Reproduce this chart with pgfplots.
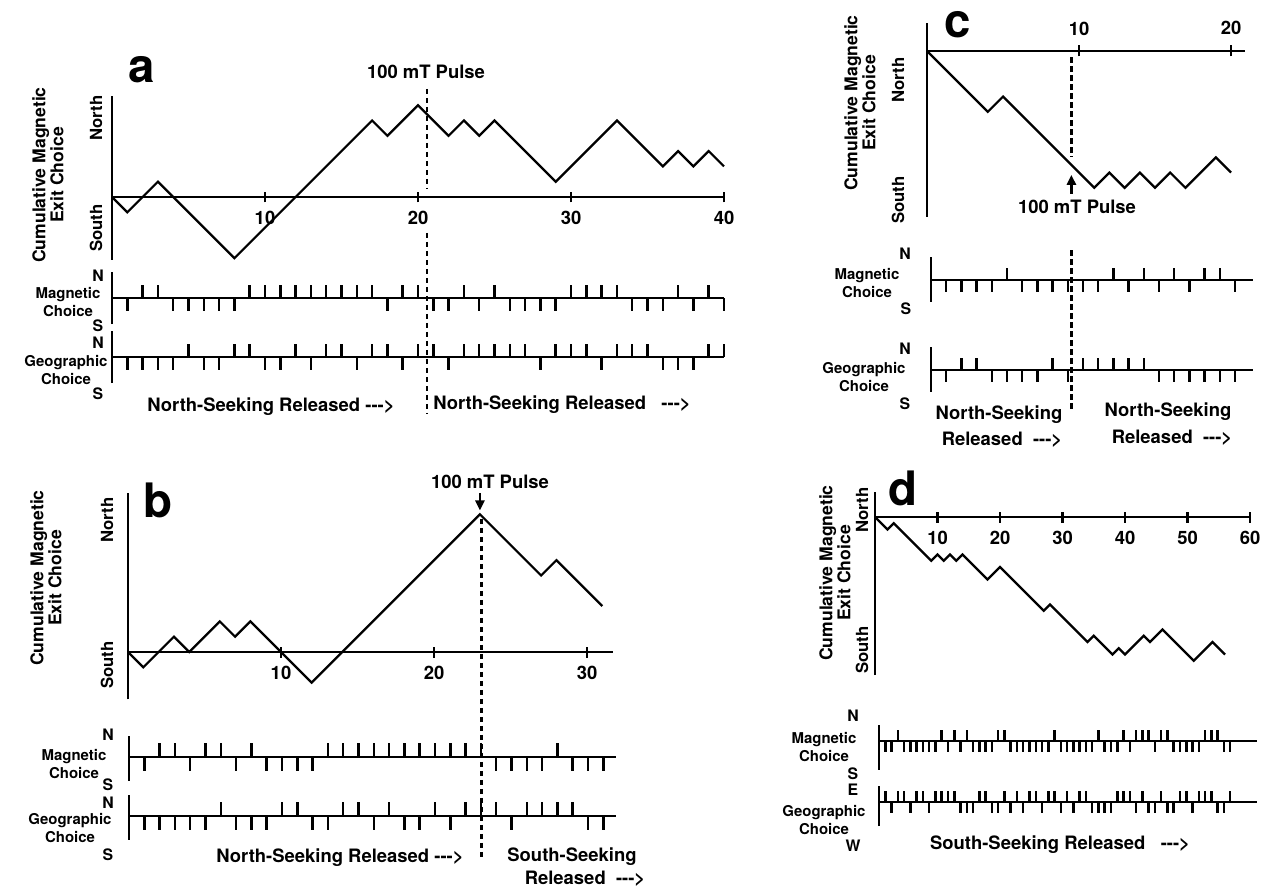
\documentclass[border=0pt]{standalone}
\usepackage{fontspec}
\setmainfont{TeX Gyre Heros}
\usepackage{pgfplots}
\pgfplotsset{compat=1.18}
\usetikzlibrary{arrows.meta}

\pgfplotsset{
  mainax/.style={anchor=origin, axis lines=middle,
    axis line style={-, line width=0.5mm},
    enlargelimits=false, clip=false, xmin=0, ytick=\empty,
    tick align=center, major tick length=2.2mm,
    every tick/.style={line width=0.45mm, black},
    xticklabel style={font=\fontsize{10.5}{12}\selectfont\bfseries, inner sep=2pt, yshift=-1mm},
    /pgf/number format/assume math mode=true},
  rowax/.style={anchor=origin, hide axis, clip=false, enlargelimits=false, xmin=0},
  curve/.style={black, line width=0.45mm, mark=none},
  base/.style={black, line width=0.4mm, mark=none},
  bar/.style={black, line width=0.5mm, mark=none},
  marks/.style={ycomb, black, line width=0.5mm, mark=none},
  pulse/.style={black, line width=0.45mm, dash pattern=on 1.1mm off 0.7mm},
}
\tikzset{
  big/.style={font=\fontsize{10.5}{12}\selectfont\bfseries},
  lab/.style={font=\fontsize{8.5}{10.5}\selectfont\bfseries, align=center},
  ylab/.style={font=\fontsize{10}{10.3}\selectfont\bfseries, align=center, rotate=90},
  ns/.style={font=\fontsize{9}{10}\selectfont\bfseries},
  nsr/.style={font=\fontsize{9.5}{10}\selectfont\bfseries, rotate=90},
  letter/.style={font=\fontsize{27}{27}\selectfont\bfseries},
}

\begin{document}
\begin{tikzpicture}[x=0.2mm, y=-0.2mm]
\useasboundingbox (0,0) rectangle (1274,889);

% ---------------- panel a ----------------
\begin{axis}[mainax, at={(22.4mm,-39.4mm)}, x=3.06mm, y=3.06mm,
  xmax=40, ymin=-4.1, ymax=6.6, xtick={10,20,30,40}]
\addplot[curve] coordinates {(0,0) (1,-1) (3,1) (8,-4) (17,5) (18,4) (20,6)
  (22,4) (23,5) (24,4) (25,5) (29,1) (33,5) (36,2) (37,3) (38,2) (39,3) (40,2)};
\addplot[pulse] coordinates {(20.6,7.06) (20.6,0.5)};
\addplot[pulse] coordinates {(20.6,-2.35) (20.6,-14.2)};
\end{axis}
\begin{axis}[rowax, at={(22.4mm,-59.6mm)}, x=3.06mm, y=2.6mm, xmax=40, ymin=-2, ymax=2]
\addplot[base] coordinates {(0,0) (40,0)};
\addplot[bar] coordinates {(0,-2) (0,2)};
\addplot[marks] coordinates {(1,-1) (2,1) (3,1) (4,-1) (5,-1) (6,-1) (7,-1) (8,-1)
  (9,1) (10,1) (11,1) (12,1) (13,1) (14,1) (15,1) (16,1) (17,1) (18,-1) (19,1) (20,1)
  (21,-1) (22,-1) (23,1) (24,-1) (25,1) (26,-1) (27,-1) (28,-1) (29,-1) (30,1) (31,1)
  (32,1) (33,1) (34,-1) (35,-1) (36,-1) (37,1) (38,-1) (39,1) (40,-1)};
\end{axis}
\begin{axis}[rowax, at={(22.4mm,-71.4mm)}, x=3.06mm, y=2.6mm, xmax=40, ymin=-2, ymax=2]
\addplot[base] coordinates {(0,0) (40,0)};
\addplot[bar] coordinates {(0,-2) (0,2)};
\addplot[marks] coordinates {(1,-1) (2,-1) (3,-1) (4,-1) (5,1) (6,-1) (7,-1) (8,1)
  (9,1) (10,-1) (11,-1) (12,1) (13,-1) (14,1) (15,1) (16,-1) (17,1) (18,1) (19,-1)
  (20,1) (21,1) (22,-1) (23,1) (24,1) (25,1) (26,1) (27,1) (28,-1) (29,1) (30,1)
  (31,1) (32,-1) (33,1) (34,1) (35,1) (36,-1) (37,-1) (38,-1) (39,1) (40,1)};
\end{axis}
\node[letter] at (142,70) {a};
\node[big] at (426,72) {100 mT Pulse};
\node[ylab] at (48,175) {Cumulative Magnetic\\Exit Choice};
\node[nsr] at (96,118) {North};
\node[nsr] at (96,228) {South};
\node[ns] at (98,276) {N};
\node[lab] at (68,302) {Magnetic\\Choice};
\node[ns] at (98,326) {S};
\node[ns] at (98,343) {N};
\node[lab] at (66,370) {Geographic\\Choice};
\node[ns] at (98,394) {S};
\node[big] at (271,407) {North-Seeking Released {-}{-}{-}>};
\node[big] at (562,405) {North-Seeking Released \ \ {-}{-}{-}>};

% ---------------- panel b ----------------
\begin{axis}[mainax, at={(25.6mm,-130.4mm)}, x=3.06mm, y=3.06mm,
  xmax=31.7, ymin=-3.1, ymax=10.4, xtick={10,20,30}]
\addplot[curve] coordinates {(0,0) (1,-1) (3,1) (4,0) (6,2) (7,1) (8,2) (12,-2)
  (23,9) (27,5) (28,6) (31,3)};
\addplot[pulse] coordinates {(23.1,8.7) (23.1,-13.6)};
\draw[-{Triangle[length=2mm,width=1.8mm]}, line width=0.5mm] (axis cs:23,10.4) -- (axis cs:23,9.25);
\end{axis}
\begin{axis}[rowax, at={(25.8mm,-151.4mm)}, x=3.06mm, y=2.8mm, xmax=31.8, ymin=-1.7, ymax=1.5]
\addplot[base] coordinates {(0,0) (31.8,0)};
\addplot[bar] coordinates {(0,-1.7) (0,1.5)};
\addplot[marks] coordinates {(1,-1) (2,1) (3,1) (4,-1) (5,1) (6,1) (7,-1) (8,1)
  (9,-1) (10,-1) (11,-1) (12,-1) (13,1) (14,1) (15,1) (16,1) (17,1) (18,1) (19,1)
  (20,1) (21,1) (22,1) (23,1) (24,-1) (25,-1) (26,-1) (27,-1) (28,1) (29,-1) (30,-1) (31,-1)};
\end{axis}
\begin{axis}[rowax, at={(25.8mm,-163.2mm)}, x=3.06mm, y=2.8mm, xmax=31.8, ymin=-1.7, ymax=1.5]
\addplot[base] coordinates {(0,0) (31.8,0)};
\addplot[bar] coordinates {(0,-1.7) (0,1.5)};
\addplot[marks] coordinates {(1,-1) (2,-1) (3,-1) (4,-1) (5,-1) (6,1) (7,-1) (8,-1)
  (9,-1) (10,1) (11,1) (12,-1) (13,-1) (14,1) (15,1) (16,-1) (17,1) (18,-1) (19,-1)
  (20,1) (21,-1) (22,1) (23,1) (24,1) (25,-1) (26,1) (27,1) (28,1) (29,1) (30,-1) (31,-1)};
\end{axis}
\node[letter] at (158,500) {b};
\node[big] at (490,482) {100 mT Pulse};
\node[ylab] at (46,578) {Cumulative Magnetic\\Exit Choice};
\node[nsr] at (107,520) {North};
\node[nsr] at (107,665) {South};
\node[ns] at (108,735) {N};
\node[lab] at (74,764) {Magnetic\\Choice};
\node[ns] at (108,785) {S};
\node[ns] at (108,803) {N};
\node[lab] at (70,828) {Geographic\\Choice};
\node[ns] at (108,855) {S};
\node[big] at (340,858) {North-Seeking Released {-}{-}{-}>};
\node[big] at (572,857) {South-Seeking};
\node[big] at (585,879) {Released \ {-}{-}{-}>};

% ---------------- panel c ----------------
\begin{axis}[mainax, at={(185.4mm,-10.2mm)}, x=3.04mm, y=3.04mm,
  xmax=20.9, ymin=-10.9, ymax=1.85, xtick={10,20}, xticklabels={}]
\addplot[curve] coordinates {(0,0) (4,-4) (5,-3) (11,-9) (12,-8) (13,-9) (14,-8)
  (15,-9) (16,-8) (17,-9) (19,-7) (20,-8)};
\addplot[pulse] coordinates {(9.5,-0.4) (9.5,-7.0)};
\addplot[pulse] coordinates {(9.5,-13.1) (9.5,-23.6)};
\draw[-{Triangle[length=2mm,width=1.8mm]}, line width=0.5mm] (axis cs:9.5,-9.4) -- (axis cs:9.5,-8.15);
\node[big] at (axis cs:10,1.45) {10};
\node[big] at (axis cs:20,1.55) {20};
\end{axis}
\begin{axis}[rowax, at={(186.2mm,-56mm)}, x=3.04mm, y=2.4mm, xmax=21.2, ymin=-1.8, ymax=1.9]
\addplot[base] coordinates {(0,0) (21.2,0)};
\addplot[bar] coordinates {(0,-1.8) (0,1.9)};
\addplot[marks] coordinates {(1,-1) (2,-1) (3,-1) (4,-1) (5,1) (6,-1) (7,-1) (8,-1)
  (9,-1) (10,-1) (11,-1) (12,1) (13,-1) (14,1) (15,-1) (16,1) (17,-1) (18,1) (19,1) (20,-1)};
\end{axis}
\begin{axis}[rowax, at={(186.2mm,-74mm)}, x=3.04mm, y=2.4mm, xmax=21.2, ymin=-1.8, ymax=1.9]
\addplot[base] coordinates {(0,0) (21.2,0)};
\addplot[bar] coordinates {(0,-1.8) (0,1.9)};
\addplot[marks] coordinates {(1,-1) (2,1) (3,1) (4,-1) (5,-1) (6,-1) (7,-1) (8,1)
  (9,-1) (10,1) (11,1) (12,1) (13,1) (14,1) (15,-1) (16,-1) (17,-1) (18,-1) (19,-1) (20,-1)};
\end{axis}
\node[letter] at (958,25) {c};
\node[big] at (1077,207) {100 mT Pulse};
\node[ylab] at (860,103) {Cumulative Magnetic\\Exit Choice};
\node[nsr] at (898,80) {North};
\node[nsr] at (898,200) {South};
\node[ns] at (905,254) {N};
\node[lab] at (867,283) {Magnetic\\Choice};
\node[ns] at (906,309) {S};
\node[ns] at (905,349) {N};
\node[lab] at (864,377) {Geographic\\Choice};
\node[ns] at (905,404) {S};
\node[big] at (999,415) {North-Seeking};
\node[big] at (1002,440) {Released \ {-}{-}{-}>};
\node[big] at (1168,412) {North-Seeking};
\node[big] at (1172,438) {Released \ {-}{-}{-}>};

% ---------------- panel d ----------------
\begin{axis}[mainax, at={(175mm,-103.4mm)}, x=1.25mm, y=1.25mm,
  xmax=60, ymin=-25.3, ymax=4, xtick={10,20,30,40,50,60}]
\addplot[curve] coordinates {(0,0) (2,-2) (3,-1) (9,-7) (10,-6) (11,-7) (12,-6)
  (13,-7) (14,-6) (18,-10) (20,-8) (27,-15) (28,-14) (34,-20) (35,-19) (38,-22)
  (39,-21) (40,-22) (43,-19) (44,-20) (46,-18) (51,-23) (54,-20) (56,-22)};
\end{axis}
\begin{axis}[rowax, at={(175.8mm,-148.2mm)}, x=1.254mm, y=2.2mm, xmax=60.3, ymin=-2.6, ymax=1.5]
\addplot[base] coordinates {(0,0) (60.3,0)};
\addplot[bar] coordinates {(0,-2.6) (0,1.5)};
\addplot[marks] coordinates {(1,-1) (2,-1) (3,1) (4,-1) (5,-1) (6,-1) (7,-1) (8,-1)
  (9,-1) (10,1) (11,-1) (12,1) (13,-1) (14,1) (15,-1) (16,-1) (17,-1) (18,-1) (19,1)
  (20,1) (21,-1) (22,-1) (23,-1) (24,-1) (25,-1) (26,-1) (27,-1) (28,1) (29,-1)
  (30,-1) (31,-1) (32,-1) (33,-1) (34,-1) (35,1) (36,-1) (37,-1) (38,-1) (39,1)
  (40,-1) (41,1) (42,1) (43,1) (44,-1) (45,1) (46,1) (47,-1) (48,-1) (49,-1) (50,-1)
  (51,-1) (52,1) (53,1) (54,1) (55,-1) (56,-1)};
\end{axis}
\begin{axis}[rowax, at={(175.8mm,-160.4mm)}, x=1.254mm, y=2.2mm, xmax=60.3, ymin=-2.2, ymax=1.5]
\addplot[base] coordinates {(0,0) (60.3,0)};
\addplot[bar] coordinates {(0,-2.2) (0,1.5)};
\addplot[marks] coordinates {(1,1) (2,-1) (3,1) (4,1) (5,-1) (6,1) (7,1) (8,-1)
  (9,1) (10,1) (11,1) (12,1) (13,-1) (14,-1) (15,-1) (16,1) (17,1) (18,-1) (19,-1)
  (20,1) (21,-1) (22,1) (23,-1) (24,1) (25,1) (26,-1) (27,1) (28,1) (29,-1) (30,1)
  (31,-1) (32,1) (33,1) (34,-1) (35,-1) (36,-1) (37,-1) (38,1) (39,1) (40,1) (41,-1)
  (42,1) (43,-1) (44,-1) (45,1) (46,-1) (47,-1) (48,1) (49,1) (50,-1) (51,1) (52,1)
  (53,1) (54,-1) (55,-1) (56,1)};
\end{axis}
\node[letter] at (903,488) {d};
\node[ylab] at (835,573) {Cumulative Magnetic\\Exit Choice};
\node[nsr] at (862,510) {North};
\node[nsr] at (862,650) {South};
\node[ns] at (853,716) {N};
\node[lab] at (824,747) {Magnetic\\Choice};
\node[ns] at (853,774) {S};
\node[ns] at (853,790) {E};
\node[lab] at (824,820) {Geographic\\Choice};
\node[ns] at (853,846) {W};
\node[big] at (1060,845) {South-Seeking Released \ \ {-}{-}{-}>};
\end{tikzpicture}
\end{document}
